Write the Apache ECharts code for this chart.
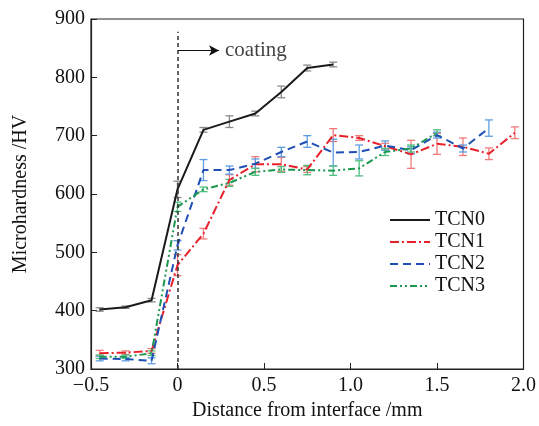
<!DOCTYPE html>
<html>
<head>
<meta charset="utf-8">
<script src="https://cdn.jsdelivr.net/npm/echarts@6/dist/echarts.min.js"></script>
<style>html,body{margin:0;padding:0;background:#fff}#c{width:539px;height:426px}</style>
</head>
<body>
<div id="c"></div>
<script>
// ---- data ----
const xs = [-0.45, -0.3, -0.15, 0, 0.15, 0.3, 0.45, 0.6, 0.75, 0.9, 1.05, 1.2, 1.35, 1.5, 1.65, 1.8, 1.95];
const seriesNames = ['TCN0', 'TCN1', 'TCN2', 'TCN3'];
const tcn0 = [402, 406, 418, 608, 710, 724, 738, 775, 816, 822];
const tcn0Err = [3, 2, 3, 14, 4, 10, 4, 10, 5, 4];
const tcn1 = [327, 328, 331, 478, 532, 624, 651, 651, 642, 701, 696, 682, 668, 686, 681, 669, 705];
const tcn1Err = [5, 3, 4, 18, 9, 9, 13, 12, 5, 11, 4, 5, 24, 18, 15, 10, 10];
const tcn2 = [318, 317, 314, 512, 641, 641, 652, 672, 690, 671, 672, 683, 675, 701, 678, 713];
const tcn2Err = [4, 3, 5, 8, 18, 7, 8, 8, 10, 23, 12, 8, 6, 5, 6, 14];
const tcn3 = [321, 321, 327, 578, 608, 619, 638, 642, 641, 640, 644, 672, 678, 705];
const tcn3Err = [3, 3, 4, 8, 4, 6, 6, 5, 8, 8, 13, 6, 6, 5];
const xTicks = [-0.5, 0, 0.5, 1.0, 1.5, 2.0];
const xTickLabels = ['\u22120.5', '0', '0.5', '1.0', '1.5', '2.0'];
const yTickLabels = ['300', '400', '500', '600', '700', '800', '900'];
const interfaceLine = [[0, 300], [0, 878]];
const arrowY = 846;
const arrowX = [0.005, 0.24];
const annotationText = 'coating';

// ---- styles ----
const colors = ['#1a1a1a', '#e8202a', '#1f4fb5', '#1a9850'];
const errColors = ['#8a8a8a', '#f07a7a', '#5e9de0', '#4fbf7f'];
const dashes = ['solid', [9, 3, 2, 3], [8, 5], [7, 3, 2, 3, 2, 3]];
const FONT = 'Liberation Serif';

const vals = [tcn0, tcn1, tcn2, tcn3];
const errs = [tcn0Err, tcn1Err, tcn2Err, tcn3Err];

const series = [];
vals.forEach((v, i) => {
  series.push({
    name: seriesNames[i], type: 'line', symbol: 'none', showSymbol: false, z: 3,
    data: v.map((y, k) => [xs[k], y]),
    lineStyle: { color: colors[i], width: 2, type: dashes[i] },
    itemStyle: { color: colors[i] }
  });
});
vals.forEach((v, i) => {
  series.push({
    name: seriesNames[i] + '_err', type: 'custom', z: 2,
    data: v.map((y, k) => [xs[k], y - errs[i][k], y + errs[i][k]]),
    renderItem: function (params, api) {
      const lo = api.coord([api.value(0), api.value(1)]);
      const hi = api.coord([api.value(0), api.value(2)]);
      const w = 4;
      const st = { stroke: errColors[i], lineWidth: 1.3 };
      return { type: 'group', children: [
        { type: 'line', shape: { x1: lo[0], y1: lo[1], x2: hi[0], y2: hi[1] }, style: st },
        { type: 'line', shape: { x1: lo[0] - w, y1: lo[1], x2: lo[0] + w, y2: lo[1] }, style: st },
        { type: 'line', shape: { x1: hi[0] - w, y1: hi[1], x2: hi[0] + w, y2: hi[1] }, style: st }
      ]};
    }
  });
});
// interface dashed line + arrow (markLines) + text
series.push({
  type: 'scatter', symbolSize: 0, silent: true, z: 4,
  data: [[arrowX[1], arrowY]],
  label: { show: true, position: 'right', distance: 6, formatter: annotationText,
           fontFamily: FONT, fontSize: 21, color: '#111' },
  markLine: {
    silent: true, animation: false,
    label: { show: false },
    data: [
      [{ coord: interfaceLine[0], symbol: 'none', lineStyle: { color: '#333', width: 1.5, type: [4, 3] } },
       { coord: interfaceLine[1], symbol: 'none' }],
      [{ coord: [arrowX[0], arrowY], symbol: 'none', lineStyle: { color: '#111', width: 1.2, type: 'solid' } },
       { coord: [arrowX[1], arrowY], symbol: 'arrow', symbolSize: [8, 10] }]
    ]
  }
});

const chart = echarts.init(document.getElementById('c'), null, { renderer: 'canvas' });
chart.setOption({
  animation: false,
  backgroundColor: '#fff',
  grid: { left: 91, right: 14, top: 19, bottom: 57, show: true, borderColor: '#222', borderWidth: 1.2 },
  legend: {
    data: seriesNames, orient: 'vertical', left: 384, top: 205, itemWidth: 40, itemHeight: 12, itemGap: 2,
    itemStyle: { opacity: 0, borderWidth: 0 },
    textStyle: { fontFamily: FONT, fontSize: 20, color: '#111' }
  },
  xAxis: {
    type: 'value', min: -0.5, max: 2.0, interval: 0.5,
    name: 'Distance from interface /mm', nameLocation: 'middle', nameGap: 32,
    nameTextStyle: { fontFamily: FONT, fontSize: 20, color: '#111' },
    axisLine: { onZero: false, lineStyle: { color: '#222', width: 1.2 } },
    axisTick: { inside: true, length: 6, lineStyle: { color: '#222' } },
    splitLine: { show: false },
    axisLabel: { fontFamily: FONT, fontSize: 20, color: '#111', margin: 7,
      formatter: v => { const k = xTicks.findIndex(t => Math.abs(t - v) < 1e-9); return k >= 0 ? xTickLabels[k] : ''; } }
  },
  yAxis: {
    type: 'value', min: 300, max: 900, interval: 100,
    name: 'Microhardness /HV', nameLocation: 'middle', nameGap: 60,
    nameTextStyle: { fontFamily: FONT, fontSize: 20, color: '#111' },
    axisLine: { onZero: false, lineStyle: { color: '#222', width: 1.2 } },
    axisTick: { inside: true, length: 6, lineStyle: { color: '#222' } },
    splitLine: { show: false },
    axisLabel: { fontFamily: FONT, fontSize: 20, color: '#111', margin: 6,
      formatter: v => yTickLabels[Math.round((v - 300) / 100)] || '' }
  },
  series: series
});
</script>
</body>
</html>
